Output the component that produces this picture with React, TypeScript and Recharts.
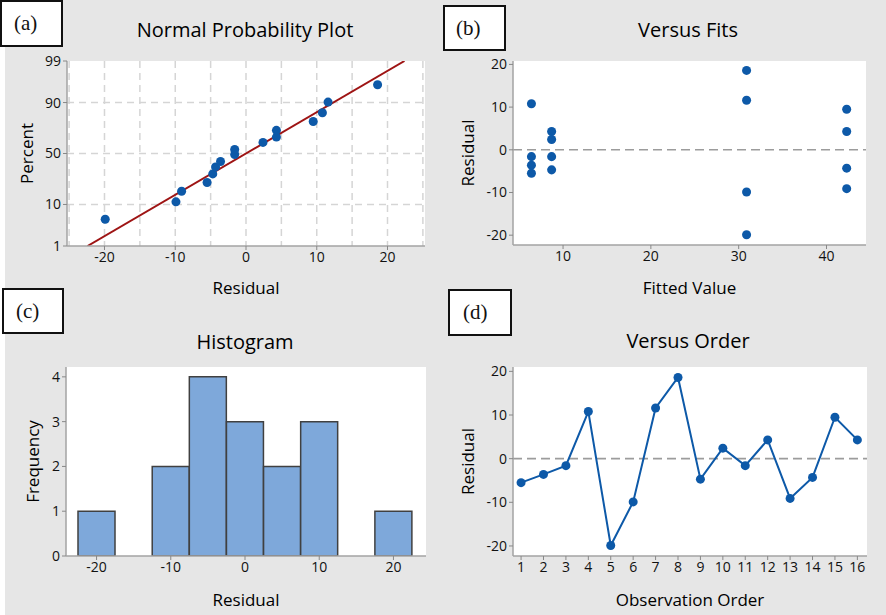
import {
  ComposedChart, ScatterChart, LineChart, BarChart, Scatter, Line, Bar,
  XAxis, YAxis, CartesianGrid, ReferenceLine,
} from 'recharts'

// residuals by observation order (panel d), fitted values (panel b)
const order = [1, 2, 3, 4, 5, 6, 7, 8, 9, 10, 11, 12, 13, 14, 15, 16]
const residuals = [-5.5, -3.6, -1.6, 10.8, -19.9, -9.9, 11.6, 18.6, -4.7, 2.4, -1.6, 4.3, -9.1, -4.3, 9.5, 4.3]
const fitted = [6.4, 6.4, 6.4, 6.4, 30.9, 30.9, 30.9, 30.9, 8.7, 8.7, 8.7, 8.7, 42.3, 42.3, 42.3, 42.3]

// normal probability plot: percent read for each sorted residual
const probPercent = [4.9, 11.2, 17.1, 23.3, 30.4, 36.8, 42, 49, 54, 61, 66, 72, 79, 84.7, 90.2, 95.8]
const fitLineX = [-22.4, 22.4]
const fitLinePct = [1, 99]
const percentTicks = [1, 10, 50, 90, 99]
const percentGrid = [10, 50, 90]
const residualTicks = [-20, -10, 0, 10, 20]
const residualGrid = [-25, -20, -15, -10, -5, 0, 5, 10, 15, 20, 25]

// histogram
const bins = [-20, -15, -10, -5, 0, 5, 10, 15, 20]
const counts = [1, 0, 2, 4, 3, 2, 3, 0, 1]
const freqTicks = [0, 1, 2, 3, 4]
const fitTicks = [10, 20, 30, 40]

const FONT = '"Open Sans", "Noto Sans", sans-serif'
const BLUE = '#0d59a8'
const BG = '#e6e6e6'
const FRAME = '#a3a3a3'

// inverse standard normal cdf (Acklam)
function probit(p: number): number {
  const a = [-39.69683028665376, 220.9460984245205, -275.9285104469687, 138.357751867269, -30.66479806614716, 2.506628277459239]
  const b = [-54.47609879822406, 161.5858368580409, -155.6989798598866, 66.80131188771972, -13.28068155288572]
  const c = [-0.007784894002430293, -0.3223964580411365, -2.400758277161838, -2.549732539343734, 4.374664141464968, 2.938163982698783]
  const d = [0.007784695709041462, 0.3224671290700398, 2.445134137142996, 3.754408661907416]
  const lo = 0.02425
  if (p < lo) {
    const q = Math.sqrt(-2 * Math.log(p))
    return (((((c[0] * q + c[1]) * q + c[2]) * q + c[3]) * q + c[4]) * q + c[5]) / ((((d[0] * q + d[1]) * q + d[2]) * q + d[3]) * q + 1)
  }
  if (p > 1 - lo) return -probit(1 - p)
  const q = p - 0.5
  const r = q * q
  return (((((a[0] * r + a[1]) * r + a[2]) * r + a[3]) * r + a[4]) * r + a[5]) * q / (((((b[0] * r + b[1]) * r + b[2]) * r + b[3]) * r + b[4]) * r + 1)
}

const sorted = [...residuals].sort((x, y) => x - y)
const probData = sorted.map((x, i) => ({ x, z: probit(probPercent[i] / 100) }))
const fitData = fitLineX.map((x, i) => ({ x, z: probit(fitLinePct[i] / 100) }))
const zTicks = percentTicks.map(p => probit(p / 100))
const zGrid = percentGrid.map(p => probit(p / 100))
const versusFits = residuals.map((r, i) => ({ fit: fitted[i], res: r }))
const versusOrder = residuals.map((r, i) => ({ obs: order[i], res: r }))
const histData = bins.map((b, i) => ({ bin: b, count: counts[i] }))

const tick = { fontSize: 14, fill: '#111', fontFamily: FONT }
const axisLabel = { fontSize: 17, fill: '#000', fontFamily: FONT }
const frameLine = { stroke: FRAME, strokeWidth: 1.5 }

function xLabel(value: string, offset: number) {
  return { value, position: 'insideBottom' as const, offset, ...axisLabel, style: axisLabel }
}
function yLabel(value: string, offset: number) {
  return { value, angle: -90, position: 'insideLeft' as const, offset, ...axisLabel, style: { ...axisLabel, textAnchor: 'middle' } }
}

// top + right axes only draw the plot frame
function frameAxes() {
  return [
    <XAxis key="ft" xAxisId="top" orientation="top" type="number" domain={[0, 1]} height={0} tick={false} tickLine={false} axisLine={frameLine} />,
    <YAxis key="fr" yAxisId="right" orientation="right" type="number" domain={[0, 1]} width={0} tick={false} tickLine={false} axisLine={frameLine} />,
  ]
}

function NormalPlot() {
  return (
    <ComposedChart width={443} height={307} margin={{ top: 61, right: 18, bottom: 11, left: 7 }}>
      <CartesianGrid fill="#fff" stroke="#d5d5d5" strokeWidth={1.5} strokeDasharray="7 5"
        verticalValues={residualGrid} horizontalValues={zGrid} />
      <XAxis dataKey="x" type="number" domain={[-25.3, 25.3]} ticks={residualTicks} allowDataOverflow
        height={50} tickSize={4} tick={tick} tickLine={{ stroke: '#888' }} axisLine={frameLine}
        label={xLabel('Residual', 2)} />
      <YAxis dataKey="z" type="number" domain={[zTicks[0], zTicks[zTicks.length - 1]]} ticks={zTicks} allowDataOverflow
        tickFormatter={(v: number) => String(percentTicks[zTicks.findIndex(t => Math.abs(t - v) < 1e-6)])}
        width={60} tickSize={4} tick={tick} tickLine={{ stroke: '#888' }} axisLine={frameLine}
        label={yLabel('Percent', 20)} />
      {frameAxes()}
      <Line data={fitData} dataKey="z" stroke="#9e1414" strokeWidth={2} dot={false} isAnimationActive={false} />
      <Scatter data={probData} fill={BLUE} isAnimationActive={false} />
    </ComposedChart>
  )
}

function VersusFits() {
  return (
    <ScatterChart width={443} height={307} margin={{ top: 61, right: 20, bottom: 12, left: 10 }}>
      <CartesianGrid fill="#fff" horizontal={false} vertical={false} />
      <XAxis dataKey="fit" type="number" domain={[4.3, 44.5]} ticks={fitTicks} allowDataOverflow
        height={50} tickSize={4} tick={tick} tickLine={{ stroke: '#888' }} axisLine={frameLine}
        label={xLabel('Fitted Value', 1)} />
      <YAxis dataKey="res" type="number" domain={[-22.3, 20.8]} ticks={residualTicks} allowDataOverflow
        width={60} tickSize={4} tick={tick} tickLine={{ stroke: '#888' }} axisLine={frameLine}
        label={yLabel('Residual', 15)} />
      {frameAxes()}
      <ReferenceLine y={0} stroke="#9c9c9c" strokeWidth={1.6} strokeDasharray="9 5" />
      <Scatter data={versusFits} fill={BLUE} isAnimationActive={false} />
    </ScatterChart>
  )
}

function Histogram() {
  return (
    <BarChart width={443} height={308} data={histData} barCategoryGap={0}
      margin={{ top: 60, right: 17, bottom: 9, left: 6 }}>
      <CartesianGrid fill="#fff" horizontal={false} vertical={false} />
      <XAxis dataKey="bin" padding={{ left: 12, right: 14 }} interval={1}
        height={50} tickSize={4} tick={tick} tickLine={{ stroke: '#888' }} axisLine={frameLine}
        label={xLabel('Residual', 0)} />
      <YAxis type="number" domain={[0, 4.22]} ticks={freqTicks} allowDataOverflow
        width={60} tickSize={4} tick={tick} tickLine={{ stroke: '#888' }} axisLine={frameLine}
        label={yLabel('Frequency', 27)} />
      {frameAxes()}
      <Bar dataKey="count" fill="#7ea8da" stroke="#404040" strokeWidth={1.5} isAnimationActive={false} />
    </BarChart>
  )
}

function VersusOrder() {
  return (
    <LineChart width={443} height={308} data={versusOrder} margin={{ top: 60, right: 19, bottom: 9, left: 10 }}>
      <CartesianGrid fill="#fff" horizontal={false} vertical={false} />
      <XAxis dataKey="obs" type="number" domain={[0.64, 16.43]} ticks={order} interval={0} allowDataOverflow
        height={50} tickSize={4} tick={tick} tickLine={{ stroke: '#888' }} axisLine={frameLine}
        label={xLabel('Observation Order', 0)} />
      <YAxis type="number" domain={[-22.3, 21]} ticks={residualTicks} allowDataOverflow
        width={60} tickSize={4} tick={tick} tickLine={{ stroke: '#888' }} axisLine={frameLine}
        label={yLabel('Residual', 15)} />
      {frameAxes()}
      <ReferenceLine y={0} stroke="#9c9c9c" strokeWidth={1.6} strokeDasharray="9 5" />
      <Line dataKey="res" stroke={BLUE} strokeWidth={2} isAnimationActive={false}
        dot={{ r: 4.5, fill: BLUE, stroke: BLUE, strokeWidth: 0 }} />
    </LineChart>
  )
}

function Title({ text, top, left }: { text: string; top: number; left: number }) {
  return (
    <div style={{ position: 'absolute', left: left, top: top - 14, width: 490, height: 28, lineHeight: '28px',
      textAlign: 'center', fontSize: 20, color: '#000', fontFamily: FONT }}>{text}</div>
  )
}

function Tag({ text, x, y, w, h, pad }: { text: string; x: number; y: number; w: number; h: number; pad: number }) {
  return (
    <div style={{ position: 'absolute', left: x, top: y, width: w, height: h, boxSizing: 'border-box',
      border: '2px solid #111', background: '#fff', fontFamily: '"Liberation Serif", serif', fontSize: 21,
      lineHeight: `${h - 4}px`, paddingLeft: pad, color: '#111' }}>{text}</div>
  )
}

export default function App() {
  return (
    <div style={{ position: 'absolute', left: 0, top: 0, width: 886, height: 615, background: '#fff', overflow: 'hidden' }}>
      <div style={{ position: 'absolute', left: 5, top: 0, width: 881, height: 615, background: BG }} />
      <div style={{ position: 'absolute', left: 0, top: 0 }}><NormalPlot /></div>
      <div style={{ position: 'absolute', left: 443, top: 0 }}><VersusFits /></div>
      <div style={{ position: 'absolute', left: 0, top: 307 }}><Histogram /></div>
      <div style={{ position: 'absolute', left: 443, top: 307 }}><VersusOrder /></div>
      <Title text="Normal Probability Plot" top={30} left={0} />
      <Title text="Versus Fits" top={30} left={443} />
      <Title text="Histogram" top={342} left={0} />
      <Title text="Versus Order" top={341} left={443} />
      <Tag text="(a)" x={0} y={0} w={63} h={47} pad={12} />
      <Tag text="(b)" x={443} y={5} w={63} h={46} pad={11} />
      <Tag text="(c)" x={2} y={288} w={62} h={46} pad={12} />
      <Tag text="(d)" x={448} y={289} w={64} h={47} pad={13} />
    </div>
  )
}
